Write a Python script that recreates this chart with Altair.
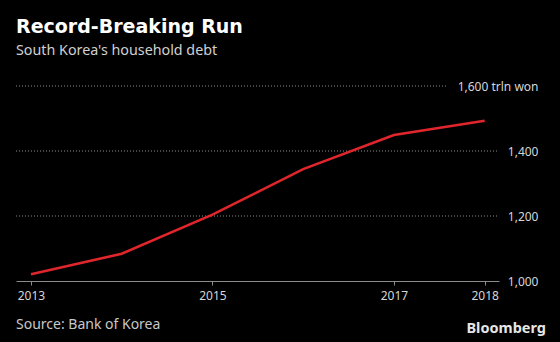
import altair as alt
import pandas as pd

years = [2013, 2014, 2015, 2016, 2017, 2018]
debt = [1021, 1084, 1204, 1344, 1449, 1493]
x_ticks = [2013, 2015, 2017, 2018]
y_ticks = [1000, 1200, 1400, 1600]
grid_full = [1200, 1400]
grid_short = [1600]

title_text = "Record-Breaking Run"
subtitle_text = "South Korea's household debt"
source_text = "Source: Bank of Korea"
brand_text = "Bloomberg"

FONT = "Noto Sans"
W, H = 483, 195

df = pd.DataFrame({"year": years, "debt": debt})

x_scale = alt.Scale(domain=[2012.835, 2018.158], nice=False, zero=False)
y_scale = alt.Scale(domain=[1000, 1600], nice=False, zero=False)

base = alt.Chart(df)

line = base.mark_line(color="#e0262c", strokeWidth=2.5).encode(
    x=alt.X("year:Q", scale=x_scale,
            axis=alt.Axis(values=x_ticks, format="d", title=None, grid=False,
                          domainColor="#8c8c8c", tickColor="#8c8c8c", tickSize=4,
                          labelColor="#d6d6d6", labelFont=FONT, labelFontSize=12,
                          labelPadding=5, labelFlush=False)),
    y=alt.Y("debt:Q", scale=y_scale,
            axis=alt.Axis(orient="right", values=y_ticks, title=None, grid=False,
                          domain=False, ticks=False, tickSize=0,
                          labelAlign="right", labelPadding=39,
                          labelExpr="datum.value == 1600 ? '1,600 trln won' : datum.label",
                          labelColor="#d6d6d6", labelFont=FONT, labelFontSize=12)),
)

grid1 = alt.Chart(pd.DataFrame({"v": grid_full})).mark_rule(
    color="#8c8c8c", strokeDash=[1, 2], strokeWidth=1
).encode(y=alt.Y("v:Q", scale=y_scale), x=alt.value(0), x2=alt.value(W))

grid2 = alt.Chart(pd.DataFrame({"v": grid_short})).mark_rule(
    color="#8c8c8c", strokeDash=[1, 2], strokeWidth=1
).encode(y=alt.Y("v:Q", scale=y_scale), x=alt.value(0), x2=alt.value(430))

source = alt.Chart(pd.DataFrame({"t": [source_text]})).mark_text(
    align="left", baseline="alphabetic", font=FONT, fontSize=14, color="#c8c8c8"
).encode(text="t:N", x=alt.value(0), y=alt.value(243))

brand = alt.Chart(pd.DataFrame({"t": [brand_text]})).mark_text(
    align="right", baseline="alphabetic", font=FONT, fontSize=14.5, fontWeight="bold",
    color="#e6e6e6"
).encode(text="t:N", x=alt.value(530), y=alt.value(247))

chart = alt.layer(grid1, grid2, line, source, brand).properties(
    width=W, height=H,
    autosize=alt.AutoSizeParams(type="none"),
    padding={"left": 16, "top": 86, "right": 61, "bottom": 61},
    title=alt.TitleParams(
        text=title_text, subtitle=subtitle_text, anchor="start", frame="group",
        font="DejaVu Sans", fontSize=19, fontWeight="bold", color="#ffffff",
        subtitleFont=FONT, subtitleFontSize=14.3, subtitleColor="#d0d0d0",
        offset=22, subtitlePadding=7,
    ),
).configure(background="#000000").configure_view(stroke=None)

chart.save("out.html", embed_options={"renderer": "svg", "actions": False})
